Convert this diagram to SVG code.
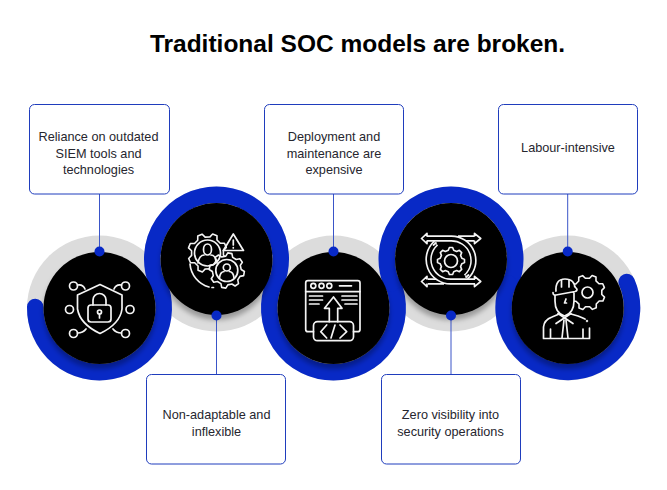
<svg xmlns="http://www.w3.org/2000/svg" xmlns:xlink="http://www.w3.org/1999/xlink" width="667" height="490" viewBox="0 0 667 490">
<style>
.box{fill:#fff;stroke:#1f3dbd;stroke-width:1}
.lab{font-family:"Liberation Sans",Arial,sans-serif;font-size:12.700px;fill:#26262e;text-anchor:middle}
.title{font-family:"Liberation Sans",Arial,sans-serif;font-size:24.500px;font-weight:700;fill:#000;text-anchor:middle}
.gray{fill:#dcdcdc}
.arc{fill:none;stroke:#0829c6;stroke-width:16.500;stroke-linecap:round}
.disc{fill:#000;filter:url(#sh)}
.dot{fill:#0829c6}
.conn{stroke:#3a55c8;stroke-width:1;fill:none}
.ic{fill:none;stroke:#f4f4f4;stroke-width:1.700;stroke-linecap:round;stroke-linejoin:round}
.gear{fill:#000;stroke:#f4f4f4;stroke-width:1.600;stroke-linejoin:round;vector-effect:non-scaling-stroke}
.bw{fill:none;stroke:#f4f4f4;stroke-width:6.400}
.bb{fill:none;stroke:#000;stroke-width:3.200}
</style>
<defs>
<filter id="sh" x="-30%" y="-30%" width="160%" height="170%"><feDropShadow dx="0" dy="5" stdDeviation="2.500" flood-color="#000" flood-opacity=".3"/></filter>
<path id="g" class="gear" d="M-20-80L-12-100H12L20-80L42-71L62-79L79-62L71-42L80-20L100-12V12L80 20L71 42L79 62L62 79L42 71L20 80L12 100H-12L-20 80L-42 71L-62 79L-79 62L-71 42L-80 20L-100 12V-12L-80-20L-71-42L-79-62L-62-79L-42-71Z"/>
</defs>
<rect width="667" height="490" fill="#fff"/>
<text class="title" x="357.500" y="52">Traditional SOC models are broken.</text>

<g id="rings">
<circle class="gray" cx="99.500" cy="308" r="72.500"/>
<circle class="gray" cx="216.500" cy="259" r="72.500"/>
<circle class="gray" cx="333.500" cy="308" r="72.500"/>
<circle class="gray" cx="451" cy="259" r="72.500"/>
<circle class="gray" cx="567.700" cy="308" r="72.500"/>
<path class="arc" d="M35.250 307A64.250 64.250 0 1 0 158.800 283.200"/>
<path class="arc" d="M157.200 283.800A64.250 64.250 0 1 1 275.800 283.800"/>
<path class="arc" d="M274.200 283.200A64.250 64.250 0 1 0 392.800 283.300"/>
<path class="arc" d="M391.700 283.700A64.250 64.250 0 1 1 510.300 283.700"/>
<path class="arc" d="M508.400 283.300A64.250 64.250 0 1 0 626.700 282"/>
</g>

<g id="connectors">
<path class="conn" d="M99.500 194V251M216.500 315V374M333.500 194V251M451 315V374M567.700 194V251"/>
</g>

<g id="node-1">
<rect class="box" x="29.500" y="104.500" width="140" height="89.500" rx="5"/>
<text class="lab" x="98.500" y="141">Reliance on outdated</text>
<text class="lab" x="98.500" y="157.500">SIEM tools and</text>
<text class="lab" x="98.500" y="174">technologies</text>
<circle class="disc" cx="99.500" cy="308" r="56"/>
<circle class="dot" cx="99.500" cy="251.500" r="5"/>
<g class="ic">
<path d="M100 284.500L122 295V309Q120 324 100 333.500Q80 324 77.500 309V295Z"/>
<rect x="88" y="305" width="23" height="17" rx="3"/>
<path d="M93 305V300A6.500 6.500 0 0 1 106 300V305"/>
<circle cx="99.500" cy="312" r="2"/><path d="M99.500 314V318"/>
<circle cx="73.500" cy="286" r="4"/><circle cx="125.500" cy="286" r="4"/>
<circle cx="69.500" cy="309.500" r="4"/><circle cx="130" cy="309.500" r="4"/>
<circle cx="73.500" cy="333.500" r="4"/><circle cx="125.500" cy="333.500" r="4"/>
<path d="M77.500 285Q83 284 85 289M121.500 285Q116 284 114 289M77.500 333Q83 333 86 329M121.500 333Q116 333 113 329"/>
</g>
</g>

<g id="node-2">
<rect class="box" x="146.500" y="374.500" width="139" height="89.500" rx="5"/>
<text class="lab" x="216.500" y="419">Non-adaptable and</text>
<text class="lab" x="216.500" y="435.500">inflexible</text>
<circle class="disc" cx="216.500" cy="259" r="56"/>
<circle class="dot" cx="216.500" cy="315.500" r="5"/>
<use href="#g" xlink:href="#g" transform="translate(207.500 253) rotate(22) scale(.195)"/>
<use href="#g" xlink:href="#g" transform="translate(226.800 270.500) rotate(10) scale(.175)"/>
<g class="ic">
<circle cx="207.500" cy="253" r="13"/>
<circle cx="226.800" cy="270.500" r="11"/>
<path d="M233.300 234L243.500 250.500H223.300Z"/>
<path d="M233.300 240V245M233.300 247.500V248"/>
<ellipse cx="207.500" cy="249.500" rx="4" ry="5.500"/>
<path d="M198 263Q199 255.500 204 255M217 263Q216 255.500 211 255"/>
<circle cx="226.800" cy="267.500" r="3.500"/>
<path d="M219.500 278Q220 272 224 271.500M234 278Q233.500 272 229.500 271.500"/>
<path d="M190 264A26 26 0 0 0 209 287M212 287.500H213.500"/>
</g>
</g>

<g id="node-3">
<rect class="box" x="264.500" y="104.500" width="139" height="89.500" rx="5"/>
<text class="lab" x="334" y="141">Deployment and</text>
<text class="lab" x="334" y="157.500">maintenance are</text>
<text class="lab" x="334" y="174">expensive</text>
<circle class="disc" cx="333.500" cy="308" r="56"/>
<circle class="dot" cx="333.500" cy="251.500" r="5"/>
<g class="ic">
<path d="M313.500 331.700H308Q305.700 331.700 305.700 329.400V283Q305.700 280.700 308 280.700H357.700Q360 280.700 360 283V329.400Q360 331.700 357.700 331.700H353.500"/>
<path d="M305.700 291.700H360"/>
<circle cx="313.300" cy="285.800" r="2.500"/><circle cx="321.500" cy="285.800" r="2.500"/><circle cx="329.300" cy="285.800" r="2.500"/>
<path d="M339.500 285.800H351.500"/>
<path d="M309.500 296H322.500M309.500 300H322.500M309.500 304H319M342 296H357M342 300H357M345 304H357"/>
<path d="M329.300 321.700V308.300H324.500L333.500 297L342 308.300H337.700V321.700"/>
<rect x="313.500" y="321.700" width="40" height="19" rx="4"/>
<path d="M326.700 325L320.700 331.700L326.700 338M335 325L331 338M340 325L346.700 331.700L340 338"/>
</g>
</g>

<g id="node-4">
<rect class="box" x="381.500" y="374.500" width="139" height="89.500" rx="5"/>
<text class="lab" x="450.500" y="419">Zero visibility into</text>
<text class="lab" x="450.500" y="435.500">security operations</text>
<circle class="disc" cx="451" cy="259" r="56"/>
<circle class="dot" cx="451" cy="315.500" r="5"/>
<path class="bw" d="M458 238.500H474M444 281.500H428"/>
<path class="bb" d="M456 238.500H474.500M446 281.500H427.500"/>
<path class="bw" d="M427 238.500H451A22 22 0 0 1 466 277"/>
<path class="bw" d="M475 281.500H451A22 22 0 0 1 436 243"/>
<path class="bb" d="M425 238.500H451A22 22 0 0 1 466.500 276.500"/>
<path class="bb" d="M477 281.500H451A22 22 0 0 1 435.500 243.500"/>
<g class="ic">
<path d="M427 236V233.300L421.500 238.500L427 243.700V241M474.500 236V233.300L480.700 238.500L474.500 243.700V241M427 279V276.300L421.500 281.500L427 286.700V284M474.500 279V276.300L480.700 281.500L474.500 286.700V284"/>
<path d="M466 277L468.500 275M436 243L433.500 245"/>
</g>
<use href="#g" xlink:href="#g" transform="translate(451 261) scale(.135)"/>
<circle class="ic" cx="451" cy="261" r="6.500"/>
</g>

<g id="node-5">
<rect class="box" x="498.500" y="104.500" width="139" height="89.500" rx="5"/>
<text class="lab" x="568" y="152">Labour-intensive</text>
<circle class="disc" cx="567.700" cy="308" r="56"/>
<circle class="dot" cx="567.700" cy="251.500" r="5"/>
<use href="#g" xlink:href="#g" transform="translate(587.500 292.500) rotate(22) scale(.175)"/>
<g class="ic">
<circle cx="587.500" cy="292.500" r="5.500"/>
<path d="M555 293V301Q555 313 564.500 316Q574 313 574 301V293" fill="#000"/>
<path d="M556 292Q555 279 565 279Q575 279 575 289" fill="#000"/>
<path d="M553 292.500Q553 295.500 556 295L575 291.500Q578 290.500 576.500 288.500L575 287" fill="#000"/>
<path d="M561.500 280V287M569 280V287"/>
<path d="M566 299L564.500 303H566.500"/>
<path d="M543.500 338.500H589.500M543.500 338.500V327Q544 320 552 317L558 314.500M589.500 338.500V328M585 319Q583 318 578 316L571 314M550.500 329V338M583 329V338"/>
<path d="M558 313.500L573 323.500M571 313.500L556 323.500"/>
<path d="M564 320L562 338M566 320L568 338"/>
<circle cx="587" cy="321" r=".4"/>
</g>
</g>
</svg>
